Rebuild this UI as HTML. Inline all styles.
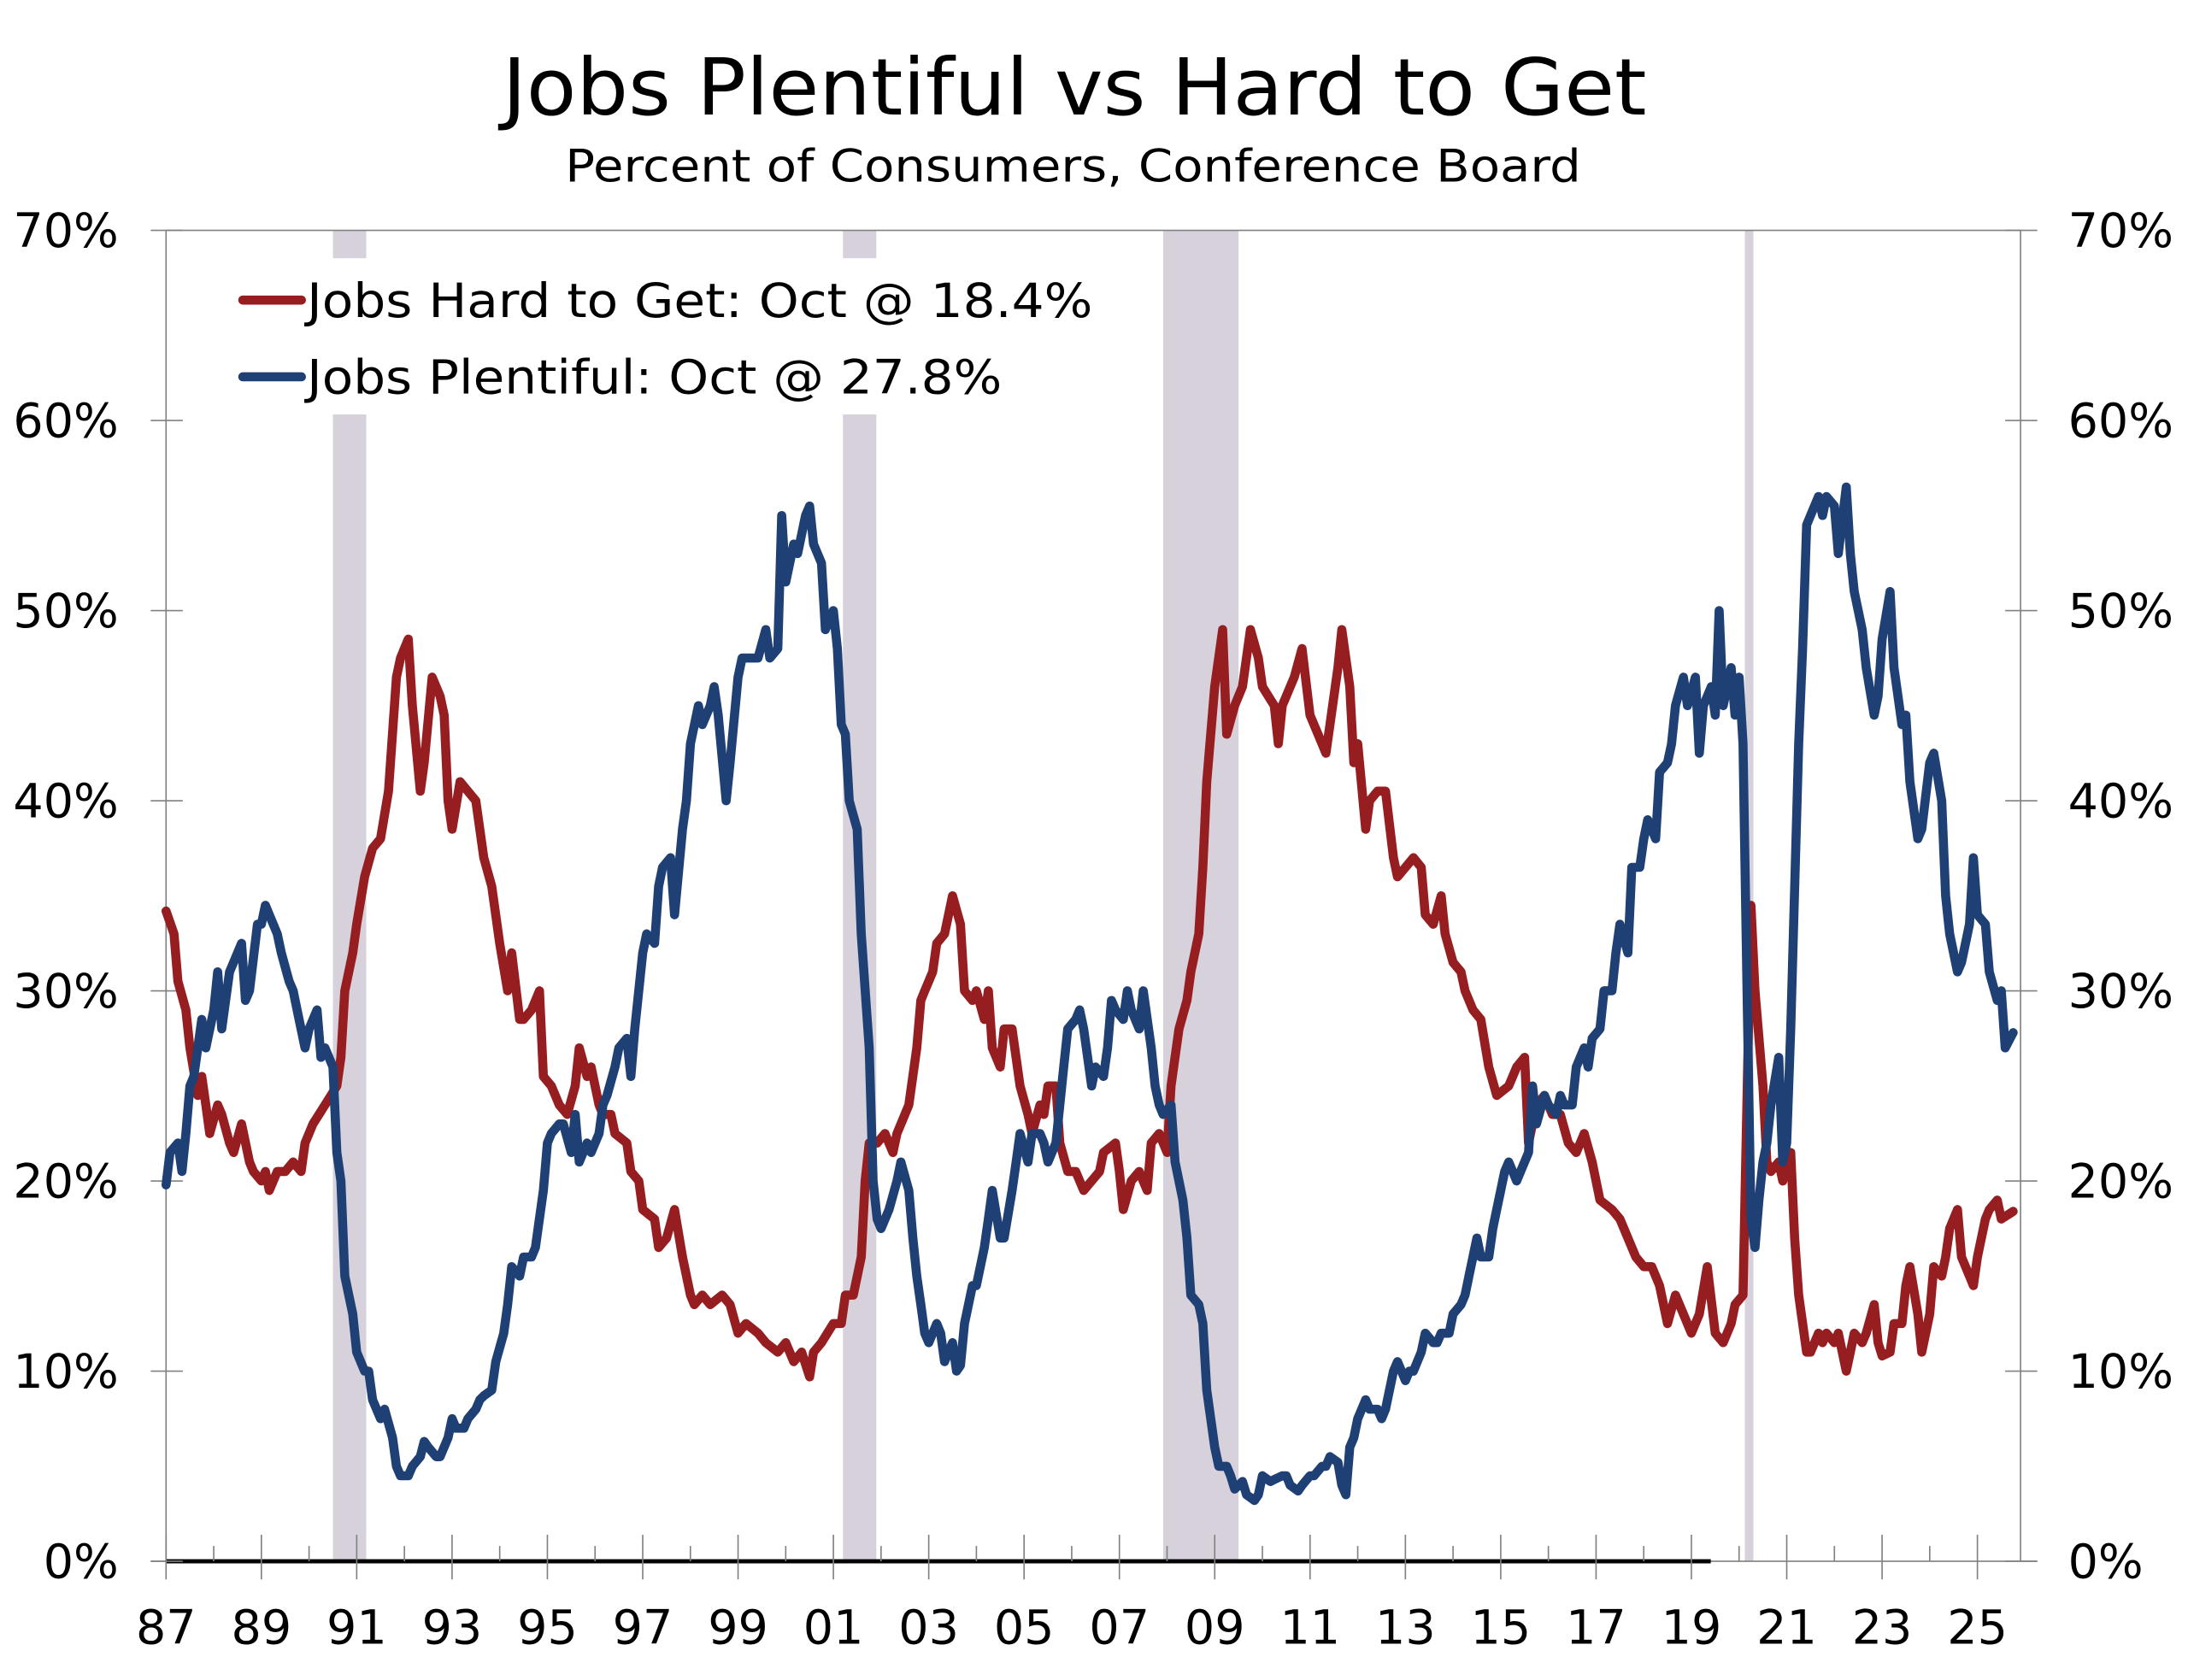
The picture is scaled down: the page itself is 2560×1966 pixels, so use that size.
<!DOCTYPE html>
<html><head><meta charset="utf-8">
<style>
html,body{margin:0;padding:0;background:#fff;}
svg{display:block;}
text{font-family:"DejaVu Sans","Liberation Sans",sans-serif;fill:#000;}
</style></head>
<body>
<svg id="chart" width="2560" height="1966" viewBox="0 0 1568 1204" xmlns="http://www.w3.org/2000/svg">
<rect x="0" y="0" width="1568" height="1204" fill="#fff"/>
<text x="770" y="82" text-anchor="middle" font-size="56" textLength="820" lengthAdjust="spacingAndGlyphs">Jobs Plentiful vs Hard to Get</text>
<text x="769" y="130" text-anchor="middle" font-size="32" textLength="728" lengthAdjust="spacingAndGlyphs">Percent of Consumers, Conference Board</text>
<g id="shade"></g>
<g id="axes"></g>
<g id="series"></g>
<g id="legend"></g>
</svg>
<script>
// months since Jan 1987
const hardMonths=[0,2,3,5,6,8,9,10,11,13,14,16,17,19,21,22,24,25,26,28,30,32,34,35,37,40,43,44,45,47,48,50,52,54,56,58,59,61,62,64,65,67,69,70,71,72,74,76,78,80,82,84,86,87,89,90,92,94,95,97,99,101,103,104,106,107,109,110,112,113,116,117,119,120,123,124,126,128,130,132,133,135,137,140,142,144,146,149,151,154,156,158,160,162,163,165,168,170,171,173,175,176,177,179,181,183,184,187,189,190,191,193,194,196,198,200,201,203,204,206,207,208,210,211,213,215,217,218,220,221,222,224,225,227,229,231,233,235,236,239,240,241,243,245,247,248,250,252,253,255,257,258,260,261,262,264,266,267,269,271,273,275,276,279,280,281,284,286,288,291,292,293,295,296,298,299,300,302,303,305,307,309,310,312,314,316,317,319,321,322,324,326,327,329,331,333,335,338,340,342,343,345,347,349,351,353,355,357,359,361,364,366,368,370,372,374,376,378,380,382,384,386,388,390,392,394,395,397,399,400,402,403,404,406,407,409,410,411,413,414,416,417,418,420,421,423,424,425,427,428,430,431,432,434,435,437,438,439,441,442,444,445,447,448,449,451,452,454,455,456,458,459,461,462,465];
const hardValues=[34.2,33,30.5,29,27,24.5,25.5,24,22.5,24,23.5,22,21.5,23,21,20.5,20,20.5,19.5,20.5,20.5,21,20.5,22,23,24,25,26.5,30,32,33.5,36,37.5,38,40.5,46.5,47.5,48.5,45,40.5,42,46.5,45.5,44.5,40,38.5,41,40.5,40,37,35.5,32.5,30,32,28.5,28.5,29,30,25.5,25,24,23.5,25,27,25.5,26,24,23.5,23.5,22.5,22,20.5,20,18.5,18,16.5,17,18.5,16,14,13.5,14,13.5,14,13.5,12,12.5,12,11.5,11,11.5,10.5,11,9.7,11,11.5,12.5,12.5,14,14,16,20,22,22,22.5,21.5,22.5,24,27,29.5,30,31,32.5,33,35,33.5,30,29.5,30,28.5,30,27,26,28,28,25,23.5,22.5,24,23.5,25,25,22,20.5,20.5,19.5,20,20.5,21.5,22,20.5,18.5,20,20.5,19.5,22,22.5,21.5,25,28,29.5,31,33,36.5,41,46,49,43.5,45,46,49,47.5,46,45,43,45,46.5,48,44.5,43,42.5,44,47,49,46,42,43,38.5,40,40.5,40.5,37,36,36.5,37,36.5,34,33.5,35,33,31.5,31,30,29,28.5,26,24.5,25,26,26.5,22,24,24.5,23.5,23.5,22,21.5,22.5,21,19,18.5,18,17,16,15.5,15.5,14.5,12.5,14,13,12,13,15.5,12,11.5,12.5,13.5,14,34.5,30,25,21,20.5,21,20,21.5,17,14,11,11,12,11.5,12,11.5,12,10,11,12,11.5,12,13.5,11.5,10.8,11,12.5,12.5,14.5,15.5,13,11,13,15.5,15,16,17.5,18.5,16,15,14.5,16,18,18.5,19,18,18.4];
const plentMonths=[0,1,3,4,5,6,7,9,10,12,13,14,16,17,19,20,21,23,24,25,26,28,29,31,32,33,35,36,38,39,40,42,43,44,45,47,48,50,51,52,54,55,57,58,59,61,62,64,65,66,68,69,71,72,73,75,76,78,79,80,82,83,85,86,87,89,90,92,93,95,96,97,99,100,102,103,104,106,107,109,110,111,113,114,116,117,118,120,121,123,124,125,127,128,130,131,132,134,135,137,138,139,141,142,144,145,146,148,149,151,152,154,155,156,158,159,161,162,163,165,166,168,169,170,171,172,174,175,177,178,179,180,182,184,185,187,188,189,190,191,192,194,195,196,198,199,200,201,203,204,206,207,208,210,211,213,214,215,217,218,220,221,222,224,226,227,229,230,231,233,234,236,237,238,239,241,242,243,245,246,248,249,250,251,253,254,256,257,258,260,261,262,264,265,267,268,269,271,272,274,275,276,278,279,281,282,283,285,286,288,289,291,292,293,295,296,297,298,299,300,302,303,305,306,307,309,310,312,313,314,316,317,319,320,321,323,324,326,327,328,330,331,333,334,335,337,338,340,341,343,344,345,347,348,350,351,352,354,355,357,358,359,361,362,364,365,366,368,369,371,372,373,375,376,378,379,380,382,383,385,386,387,389,390,391,392,394,395,396,397,398,399,400,401,402,403,404,406,407,408,409,411,412,413,414,416,417,418,420,421,423,424,425,427,428,430,431,432,434,435,437,438,439,441,442,444,445,447,448,449,451,452,454,455,456,458,459,461,462,463,465];
const plentValues=[19.8,21.5,22,20.5,22.5,25,25.5,28.5,27,29,31,28,31,31.5,32.5,29.5,30,33.5,33.5,34.5,34,33,32,30.5,30,29,27,28,29,26.5,27,26,21.5,20,15,13,11,10,10,8.5,7.5,8,6.5,5,4.5,4.5,5,5.5,6.3,6,5.5,5.5,6.5,7.5,7,7,7.5,8,8.5,8.7,9,10.5,12,13.5,15.5,15,16,16,16.5,19.5,22,22.5,23,23,21.5,23.5,21,22,21.5,22.5,24,24.5,26,27,27.5,25.5,28,32,33,32.5,35.5,36.5,37,34,38.5,40,43,45,44,45,46,44.5,40,42,46.5,47.5,47.5,47.5,47.5,49,47.5,48,55,51.5,53.5,53,55,55.5,53.5,52.5,49,50,48,44,43.5,40,38.5,33,27,20,18,17.5,18.5,20,21,19.5,17,15,13.5,12,11.5,12.5,12,10.5,11.5,10,10.3,12.5,14.5,14.5,16.5,18,19.5,17,17,19.5,21,22.5,21,22.5,22.5,22,21,22,26,28,28.5,29,28,25,26,25.5,27,29.5,29,28.5,30,29,28,30,27,25,24,23.5,24,21,19,17,14,13.5,12.5,9,6,5,5,4.5,3.8,4.2,3.5,3.2,3.5,4.5,4.2,4.3,4.5,4.5,4,3.7,4,4.5,4.5,5,5,5.5,5.2,4,3.5,6,6.5,7.5,8.5,8,8,7.5,8,10,10.5,9.5,10,10,11,12,11.5,11.5,12,12,13,13.5,14,15,17,16,16,17.5,18.5,20.5,21,20,20.5,21.5,25,23,24.5,24,23.5,24.5,24,24,26,27,26,27.5,28,30,30,32,33.5,32,36.5,36.5,38,39,38,41.5,42,43,45,46.5,45,46.5,42.5,45,46,44.5,50,45,47,44.5,46.5,43,30,18,16.5,19,21,22,24,26.5,21,22,28,43,48,54.5,55,56,55,56,55.5,53,56.5,53,51,49,47,44.5,45.5,48.5,51,47,44,44.5,41,38,38.5,42,42.5,40,35,33,31,31.5,33.5,37,34,33.5,31,29.5,30,27,27.8];
const recessionStarts=[1990.5,2001.2,2007.92,2020.12];
const recessionEnds=[1991.2,2001.9,2009.5,2020.3];
const yTicks=[0,10,20,30,40,50,60,70];
const xTickYears=[1987,1989,1991,1993,1995,1997,1999,2001,2003,2005,2007,2009,2011,2013,2015,2017,2019,2021,2023,2025];
const xTickLabels=["87","89","91","93","95","97","99","01","03","05","07","09","11","13","15","17","19","21","23","25"];

const NS="http://www.w3.org/2000/svg";
const L=119,R=1448,T=165,B=1119,X0=1987,PXY=34.16;
const xs=y=>L+(y-X0)*PXY;
const ys=v=>B-(v/70)*(B-T);
function mk(tag,attrs,parent){const e=document.createElementNS(NS,tag);for(const k in attrs)e.setAttribute(k,attrs[k]);parent.appendChild(e);return e;}
const shade=document.getElementById('shade'),axes=document.getElementById('axes'),series=document.getElementById('series'),legend=document.getElementById('legend');

recessionStarts.forEach((s,i)=>{
  const r=mk('rect',{x:xs(s),y:T,width:xs(recessionEnds[i])-xs(s),height:B-T,fill:'#d6d1db'},shade);
  
  
});

[[L,T,L,B],[R,T,R,B],[L,T,R,T],[108,B,1460,B]].forEach(c=>{
  const l=mk('line',{x1:c[0],y1:c[1],x2:c[2],y2:c[3],stroke:'#808080','stroke-width':1},axes);
  
  
});
const zl=mk('line',{x1:L,y1:B,x2:1226,y2:B,stroke:'#000','stroke-width':3},axes);



yTicks.forEach(v=>{
  const y=ys(v);
  const t1=mk('line',{x1:108,y1:y,x2:131,y2:y,stroke:'#808080','stroke-width':1},axes);
  
  
  const t2=mk('line',{x1:1437,y1:y,x2:1460,y2:y,stroke:'#808080','stroke-width':1},axes);
  
  
  const a=mk('text',{x:85,y:y+12,'text-anchor':'end','font-size':34},axes);a.textContent=v+'%';
  
  
  const b=mk('text',{x:1482,y:y+12,'text-anchor':'start','font-size':34},axes);b.textContent=v+'%';
  
  
});
for(let yr=1987;yr<=2025;yr++){
  const major=(yr%2===1);
  const x=xs(yr);
  const t=mk('line',{x1:x,y1:major?1100:1108,x2:x,y2:major?1132:1119,stroke:'#808080','stroke-width':1},axes);
  
  
}
xTickYears.forEach((yr,i)=>{
  const t=mk('text',{x:xs(yr),y:1178,'text-anchor':'middle','font-size':34},axes);t.textContent=xTickLabels[i];
  
  
});

function line(months,vals,color,name){
  const d=months.map((m,i)=>(i?'L':'M')+xs(X0+m/12).toFixed(1)+','+ys(vals[i]).toFixed(1)).join(' ');
  const p=mk('path',{d:d,fill:'none',stroke:color,'stroke-width':6.5,'stroke-linejoin':'round','stroke-linecap':'round'},series);
  
  
}
line(hardMonths,hardValues,'#961e21','jobs-hard-to-get-line');
line(plentMonths,plentValues,'#1f4074','jobs-plentiful-line');

const lb=mk('rect',{x:143,y:185,width:672,height:112,fill:'#fff'},legend);


[['#961e21','Jobs Hard to Get: Oct @ 18.4%',215,563],['#1f4074','Jobs Plentiful: Oct @ 27.8%',270,498]].forEach(e=>{
  const l=mk('line',{x1:174,y1:e[2],x2:216,y2:e[2],stroke:e[0],'stroke-width':6.5,'stroke-linecap':'round'},legend);
  
  
  const t=mk('text',{x:220,y:e[2]+12,'font-size':34,textLength:e[3],lengthAdjust:'spacingAndGlyphs'},legend);t.textContent=e[1];
  
  
});
</script>
</body></html>
